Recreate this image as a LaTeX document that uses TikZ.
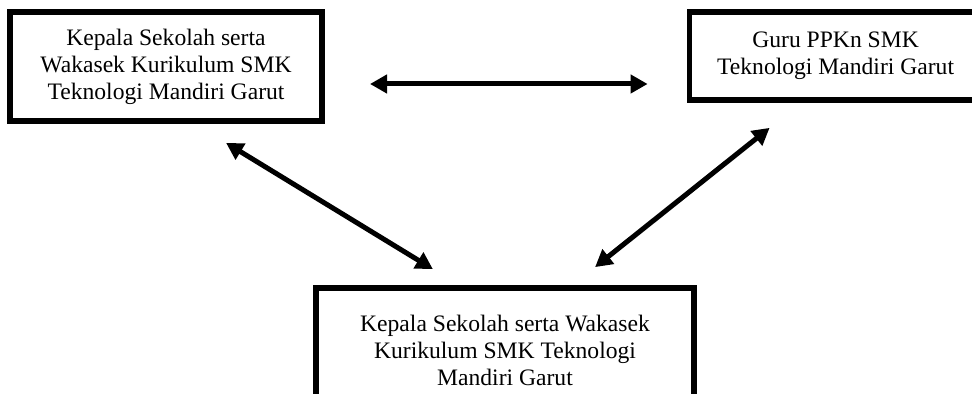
\documentclass[tikz,border=0pt]{standalone}
\usepackage{fontspec}
\setmainfont{Liberation Serif}
\usetikzlibrary{positioning,arrows.meta}

\begin{document}
\begin{tikzpicture}[
    x=0.5pt, y=-0.5pt,
    node distance=181pt,
    box/.style={draw, line width=2.8pt, align=center, inner sep=0pt, font=\fontsize{11.8}{13.5}\selectfont},
    arrow/.style={{Triangle[length=8.5pt,width=9pt]}-{Triangle[length=8.5pt,width=9pt]}, line width=2.5pt}
  ]
    \useasboundingbox (0,0) rectangle (972,394);
    \node[box, minimum width=156pt, minimum height=54.5pt] (kepsek) at (166,66.5) {Kepala Sekolah serta\\Wakasek Kurikulum SMK\\Teknologi Mandiri Garut};
    \node[box, minimum width=146pt, minimum height=44pt, right=of kepsek, yshift=5.25pt] (guru) {Guru PPKn SMK\\Teknologi Mandiri Garut};
    \node[box, minimum width=189pt, minimum height=62pt] (hasil) at (505,350) {Kepala Sekolah serta Wakasek\\Kurikulum SMK Teknologi\\Mandiri Garut};

    \draw[arrow, shorten <=22.6pt, shorten >=19.6pt] ([yshift=-8.75pt]kepsek.east) -- ([yshift=-14pt]guru.west);
    \draw[arrow, shorten <=18.3pt, shorten >=15.4pt] ([xshift=14.4pt]kepsek.south) -- ([xshift=-22.9pt]hasil.north);
    \draw[arrow, shorten <=20.1pt, shorten >=14.5pt] ([xshift=-17.3pt]guru.south) -- ([xshift=33.7pt]hasil.north);
  \end{tikzpicture}
\end{document}
